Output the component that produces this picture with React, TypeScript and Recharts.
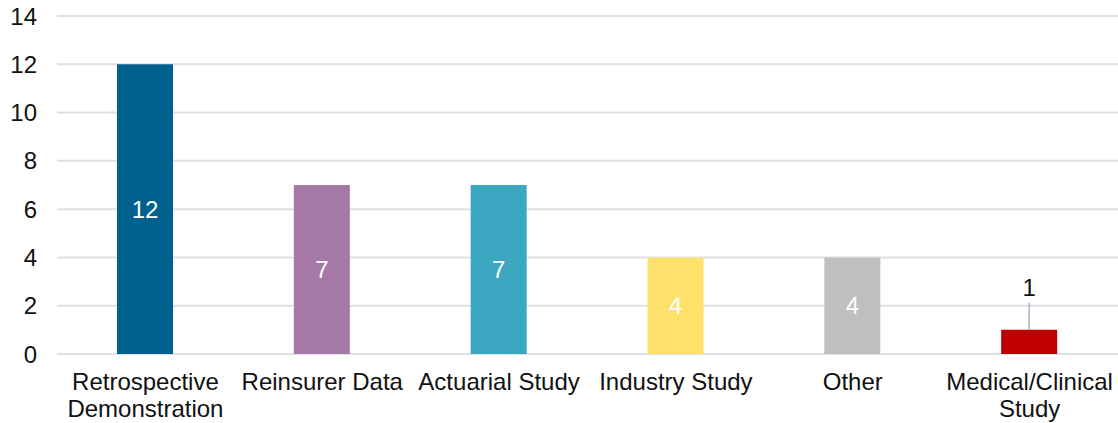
import React from 'react';
import { BarChart, Bar, XAxis, YAxis, CartesianGrid, Cell, LabelList } from 'recharts';

const categories = [
  'Retrospective Demonstration',
  'Reinsurer Data',
  'Actuarial Study',
  'Industry Study',
  'Other',
  'Medical/Clinical Study',
];
const counts = [12, 7, 7, 4, 4, 1];
const barColors = ['#00618f', '#a678a6', '#3ba7c1', '#fde16b', '#bfbfbf', '#c00000'];
const yTicks = [0, 2, 4, 6, 8, 10, 12, 14];

const data = categories.map((name, i) => ({ name, value: counts[i] }));

const FONT = '"Liberation Sans", Arial, sans-serif';

// long names break before their last word
function splitLabel(label: string): string[] {
  if (label.length <= 16) return [label];
  const cut = label.lastIndexOf(' ');
  return [label.slice(0, cut), label.slice(cut + 1)];
}

function CategoryTick(props: any) {
  const { x, y, payload } = props;
  const lines = splitLabel(String(payload.value));
  return (
    <text
      x={x}
      y={y}
      textAnchor="middle"
      style={{ fontFamily: FONT, fontSize: 24, fill: '#111' }}
    >
      {lines.map((line, i) => (
        <tspan key={i} x={x} dy={i === 0 ? 17 : 27}>
          {line}
        </tspan>
      ))}
    </text>
  );
}

// short bars get their label lifted above with a thin leader line
function ValueLabel(props: any) {
  const { x, y, width, height, value } = props;
  const cx = x + width / 2;
  if (height < 40) {
    return (
      <g>
        <line x1={cx} x2={cx} y1={y} y2={y - 27} stroke="#a9b3c1" strokeWidth={1.5} />
        <text
          x={cx}
          y={y - 42}
          textAnchor="middle"
          dominantBaseline="central"
          style={{ fontFamily: FONT, fontSize: 24, fill: '#111' }}
        >
          {value}
        </text>
      </g>
    );
  }
  return (
    <text
      x={cx}
      y={y + height / 2}
      textAnchor="middle"
      dominantBaseline="central"
      style={{ fontFamily: FONT, fontSize: 24, fill: '#fff' }}
    >
      {value}
    </text>
  );
}

export default function App() {
  return (
    <div style={{ position: 'absolute', left: 0, top: 0, background: '#fff' }}>
      <BarChart
        width={1118}
        height={423}
        data={data}
        margin={{ top: 16, right: 0, left: 0, bottom: 0 }}
      >
        <CartesianGrid vertical={false} stroke="#dde0e5" strokeWidth={2} />
        <XAxis
          dataKey="name"
          height={69}
          axisLine={false}
          tickLine={false}
          tickSize={0}
          tickMargin={19}
          interval={0}
          tick={<CategoryTick />}
        />
        <YAxis
          width={57}
          domain={[0, 14]}
          ticks={yTicks}
          axisLine={false}
          tickLine={false}
          tickSize={0}
          tickMargin={20}
          tick={{ fontFamily: FONT, fontSize: 24, fill: '#111' }}
        />
        <Bar dataKey="value" barSize={56} isAnimationActive={false}>
          {data.map((d, i) => (
            <Cell key={d.name} fill={barColors[i]} />
          ))}
          <LabelList dataKey="value" content={<ValueLabel />} />
        </Bar>
      </BarChart>
    </div>
  );
}
